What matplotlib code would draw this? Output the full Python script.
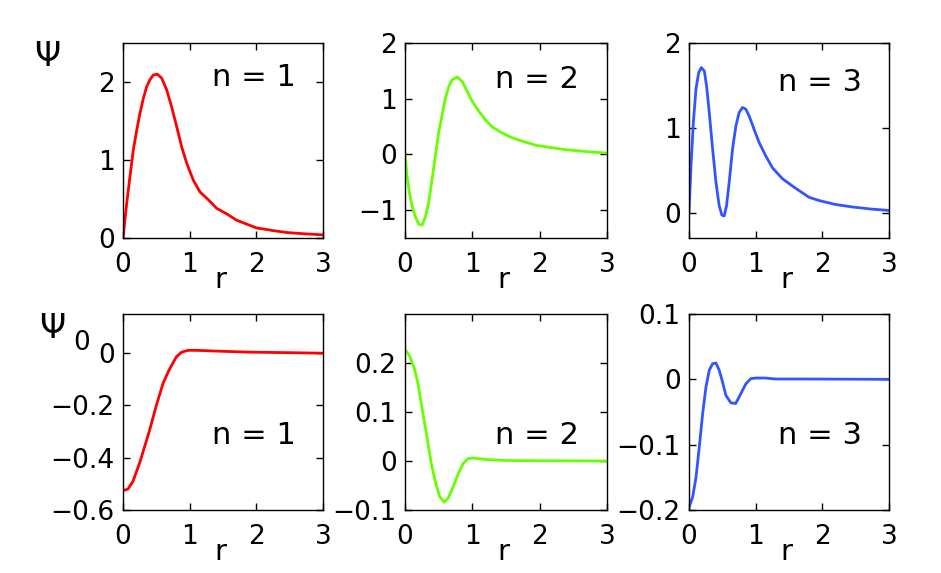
import matplotlib
matplotlib.use("Agg")
import matplotlib.pyplot as plt

plt.rcParams['font.family'] = ['DejaVu Sans']

# ---------------- data ----------------
r_psi1 = [0, 0.055, 0.105, 0.155, 0.205, 0.255, 0.305, 0.355, 0.405, 0.455, 0.515, 0.58, 0.655,
          0.73, 0.805, 0.88, 0.955, 1.055, 1.155, 1.28, 1.405, 1.555, 1.7, 2.0, 2.25, 2.46, 2.7, 3.0]
psi1 = [0, 0.44, 0.79, 1.13, 1.38, 1.60, 1.79, 1.94, 2.03, 2.09, 2.10, 2.05, 1.90,
        1.68, 1.43, 1.17, 0.96, 0.74, 0.59, 0.49, 0.38, 0.31, 0.23, 0.13, 0.095, 0.07, 0.055, 0.04]

r_psi2 = [0, 0.03, 0.065, 0.104, 0.154, 0.204, 0.253, 0.303, 0.353, 0.402, 0.452, 0.502, 0.551,
          0.601, 0.651, 0.70, 0.775, 0.85, 0.924, 1.0, 1.10, 1.20, 1.30, 1.42, 1.57, 1.71, 1.96,
          2.35, 2.7, 3.0]
psi2 = [0, -0.38, -0.68, -0.92, -1.12, -1.25, -1.27, -1.12, -0.86, -0.44, -0.02, 0.40, 0.71,
        1.01, 1.22, 1.34, 1.39, 1.31, 1.13, 0.95, 0.77, 0.61, 0.49, 0.40, 0.31, 0.25, 0.16,
        0.09, 0.05, 0.024]

r_psi3 = [0, 0.03, 0.065, 0.105, 0.145, 0.185, 0.23, 0.264, 0.304, 0.354, 0.404, 0.453, 0.493,
          0.528, 0.563, 0.603, 0.653, 0.703, 0.752, 0.802, 0.852, 0.902, 0.977, 1.05, 1.15, 1.25,
          1.40, 1.575, 1.8, 1.96, 2.2, 2.46, 2.75, 3.0]
psi3 = [0, 0.55, 1.06, 1.46, 1.65, 1.71, 1.67, 1.49, 1.18, 0.75, 0.36, 0.08, -0.03,
        -0.04, 0.08, 0.36, 0.75, 1.02, 1.18, 1.24, 1.22, 1.14, 0.98, 0.83, 0.67, 0.53,
        0.40, 0.30, 0.18, 0.14, 0.095, 0.065, 0.04, 0.025]

r_psi01 = [0, 0.075, 0.15, 0.25, 0.4, 0.5, 0.6, 0.69, 0.8, 0.88, 0.98, 1.1, 1.4, 1.9, 2.5, 3.0]
psi01 = [-0.526, -0.52, -0.49, -0.42, -0.294, -0.2, -0.116, -0.065, -0.014, 0.004, 0.011, 0.011,
         0.008, 0.004, 0.002, 0.0]

r_psi02 = [0, 0.07, 0.144, 0.194, 0.243, 0.293, 0.343, 0.39, 0.457, 0.517, 0.58, 0.64, 0.715,
           0.79, 0.864, 0.94, 1.01, 1.21, 1.5, 2.0, 3.0]
psi02 = [0.228, 0.214, 0.187, 0.157, 0.116, 0.076, 0.035, -0.005, -0.046, -0.073, -0.084, -0.076,
         -0.053, -0.026, -0.005, 0.005, 0.006, 0.003, 0.001, 0.0005, 0.0]

r_psi03 = [0, 0.055, 0.105, 0.154, 0.204, 0.254, 0.304, 0.354, 0.404, 0.453, 0.503, 0.553, 0.628,
           0.70, 0.777, 0.852, 0.927, 1.0, 1.15, 1.30, 1.75, 3.0]
psi03 = [-0.196, -0.18, -0.15, -0.104, -0.053, -0.012, 0.014, 0.024, 0.025, 0.014, -0.004, -0.0245,
         -0.036, -0.037, -0.022, -0.007, 0.001, 0.002, 0.002, 0.0005, 0.0005, 0.0]

labels = ['n = 1', 'n = 2', 'n = 3']
colors = ['#ff0000', '#66ff00', '#3355ff']

top_series = [(r_psi1, psi1), (r_psi2, psi2), (r_psi3, psi3)]
bot_series = [(r_psi01, psi01), (r_psi02, psi02), (r_psi03, psi03)]

top_ylims = [(0, 2.5), (-1.5, 2), (-0.3, 2)]
top_yticks = [[0, 1, 2], [-1, 0, 1, 2], [0, 1, 2]]
top_yticklabels = [['0', '1', '2'], ['\u22121', '0', '1', '2'], ['0', '1', '2']]

bot_ylims = [(-0.6, 0.15), (-0.1, 0.3), (-0.2, 0.1)]
bot_yticks = [[-0.6, -0.4, -0.2, 0], [-0.1, 0, 0.1, 0.2], [-0.2, -0.1, 0, 0.1]]
bot_yticklabels = [['\u22120.6', '\u22120.4', '\u22120.2', '0'],
                   ['\u22120.1', '0', '0.1', '0.2'],
                   ['\u22120.2', '\u22120.1', '0', '0.1']]

xticks = [0, 1, 2, 3]
xticklabels = ['0', '1', '2', '3']

# ---------------- figure ----------------
W, H = 941, 573
fig = plt.figure(figsize=(W / 100, H / 100), dpi=100)

cols = [(123, 200), (405, 202), (689, 200)]
rows = [(43, 238), (314, 510)]

TICK_FS = 19
LAB_FS = 22


def make_ax(col, row):
    l, w = cols[col]
    t, b = rows[row]
    return fig.add_axes([l / W, (H - b) / H, w / W, (b - t) / H])


def style(ax):
    ax.set_xlim(0, 3)
    ax.set_xticks(xticks)
    ax.set_xticklabels(xticklabels)
    ax.tick_params(direction='in', top=True, right=True, length=5, width=1,
                   labelsize=TICK_FS, pad=6)
    ax.tick_params(axis='x', pad=10)
    for s in ax.spines.values():
        s.set_linewidth(1.0)
    ax.text(0.485, -0.256, 'r', transform=ax.transAxes, ha='center',
            va='baseline', fontsize=21)


for i in range(3):
    ax = make_ax(i, 0)
    x, y = top_series[i]
    ax.plot(x, y, color=colors[i], lw=2.0, solid_joinstyle='round')
    ax.set_ylim(*top_ylims[i])
    ax.set_yticks(top_yticks[i])
    ax.set_yticklabels(top_yticklabels[i])
    style(ax)
    ax.text(0.445, [0.78, 0.77, 0.755][i], labels[i], transform=ax.transAxes,
            ha='left', va='baseline', fontsize=LAB_FS)

    ax = make_ax(i, 1)
    x, y = bot_series[i]
    ax.plot(x, y, color=colors[i], lw=2.0, solid_joinstyle='round')
    ax.set_ylim(*bot_ylims[i])
    ax.set_yticks(bot_yticks[i])
    ax.set_yticklabels(bot_yticklabels[i])
    style(ax)
    ax.text(0.445, 0.337, labels[i], transform=ax.transAxes,
            ha='left', va='baseline', fontsize=LAB_FS)

fig.text(47 / W, 1 - 56 / H, '\u03a8', ha='center', va='center', fontsize=24)
fig.text(52 / W, 1 - 328 / H, '\u03a8', ha='center', va='center', fontsize=24)
fig.text(73 / W, 1 - 350 / H, '0', ha='left', va='baseline', fontsize=19)

fig.savefig('out.png', dpi=100)
